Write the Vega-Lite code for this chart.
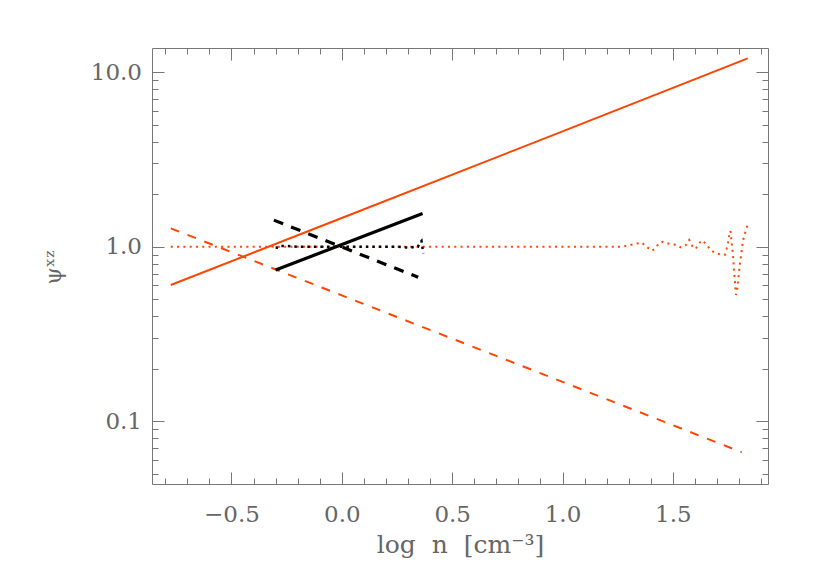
{
  "$schema": "https://vega.github.io/schema/vega-lite/v6.json",
  "width": 616,
  "height": 436,
  "autosize": {"type": "none"},
  "padding": {"left": 152, "top": 48, "right": 46, "bottom": 97},
  "background": "white",
  "datasets": {
    "curves": [
      {"s": "rs", "x": -0.775, "y": 0.603},
      {"s": "rs", "x": 0.0, "y": 1.46},
      {"s": "rs", "x": 1.0, "y": 4.58},
      {"s": "rs", "x": 1.839, "y": 12.0},
      {"s": "rd", "x": -0.775, "y": 1.274},
      {"s": "rd", "x": 0.0, "y": 0.526},
      {"s": "rd", "x": 1.0, "y": 0.168},
      {"s": "rd", "x": 1.812, "y": 0.0664},
      {"s": "bs", "x": -0.3, "y": 0.735},
      {"s": "bs", "x": 0.366, "y": 1.55},
      {"s": "bd", "x": -0.308, "y": 1.42},
      {"s": "bd", "x": 0.346, "y": 0.668},
      {"s": "ro", "x": -0.775, "y": 1.0},
      {"s": "ro", "x": 0.5, "y": 1.0},
      {"s": "ro", "x": 1.2, "y": 1.0},
      {"s": "ro", "x": 1.27, "y": 1.0},
      {"s": "ro", "x": 1.3, "y": 1.018},
      {"s": "ro", "x": 1.33, "y": 1.04},
      {"s": "ro", "x": 1.36, "y": 1.054},
      {"s": "ro", "x": 1.38, "y": 1.0},
      {"s": "ro", "x": 1.405, "y": 0.948},
      {"s": "ro", "x": 1.42, "y": 0.974},
      {"s": "ro", "x": 1.436, "y": 1.046},
      {"s": "ro", "x": 1.455, "y": 1.068},
      {"s": "ro", "x": 1.483, "y": 1.04},
      {"s": "ro", "x": 1.511, "y": 1.027},
      {"s": "ro", "x": 1.537, "y": 0.99},
      {"s": "ro", "x": 1.558, "y": 1.019},
      {"s": "ro", "x": 1.574, "y": 1.093},
      {"s": "ro", "x": 1.588, "y": 1.009},
      {"s": "ro", "x": 1.603, "y": 0.97},
      {"s": "ro", "x": 1.617, "y": 1.04},
      {"s": "ro", "x": 1.633, "y": 1.088},
      {"s": "ro", "x": 1.653, "y": 1.027},
      {"s": "ro", "x": 1.671, "y": 0.957},
      {"s": "ro", "x": 1.692, "y": 0.92},
      {"s": "ro", "x": 1.718, "y": 0.9},
      {"s": "ro", "x": 1.736, "y": 0.9},
      {"s": "ro", "x": 1.744, "y": 0.98},
      {"s": "ro", "x": 1.75, "y": 1.06},
      {"s": "ro", "x": 1.755, "y": 1.15},
      {"s": "ro", "x": 1.761, "y": 1.23},
      {"s": "ro", "x": 1.767, "y": 1.04},
      {"s": "ro", "x": 1.773, "y": 0.873},
      {"s": "ro", "x": 1.779, "y": 0.68},
      {"s": "ro", "x": 1.786, "y": 0.53},
      {"s": "ro", "x": 1.79, "y": 0.548},
      {"s": "ro", "x": 1.796, "y": 0.644},
      {"s": "ro", "x": 1.802, "y": 0.766},
      {"s": "ro", "x": 1.81, "y": 0.905},
      {"s": "ro", "x": 1.817, "y": 1.074},
      {"s": "ro", "x": 1.824, "y": 1.16},
      {"s": "ro", "x": 1.832, "y": 1.26},
      {"s": "ro", "x": 1.841, "y": 1.36},
      {"s": "bo", "x": -0.3, "y": 0.99},
      {"s": "bo", "x": -0.285, "y": 0.985},
      {"s": "bo", "x": -0.275, "y": 1.01},
      {"s": "bo", "x": -0.25, "y": 1.01},
      {"s": "bo", "x": -0.2, "y": 1.0},
      {"s": "bo", "x": 0.25, "y": 1.0},
      {"s": "bo", "x": 0.29, "y": 0.99},
      {"s": "bo", "x": 0.31, "y": 0.985},
      {"s": "bo", "x": 0.33, "y": 1.0},
      {"s": "bo", "x": 0.345, "y": 1.0},
      {"s": "bo", "x": 0.354, "y": 1.06},
      {"s": "bo", "x": 0.361, "y": 1.08},
      {"s": "bo", "x": 0.369, "y": 0.916}
    ]
  },
  "data": {"name": "curves"},
  "resolve": {"axis": {"x": "independent", "y": "independent"}},
  "layer": [
    {
      "transform": [{"filter": "datum.s == 'rs'"}],
      "mark": {"type": "line", "color": "#ff4500", "strokeWidth": 2},
      "encoding": {
        "x": {"field": "x", "type": "quantitative",
              "scale": {"domain": [-0.86, 1.931], "nice": false, "zero": false},
              "axis": {"orient": "bottom", "values": [-0.5, 0, 0.5, 1, 1.5], "format": ".1f", "ticks": false,
                       "labelPadding": 37, "labelBaseline": "alphabetic",
                       "title": "log\u00a0\u00a0n\u00a0\u00a0[cm\u207b\u00b3]", "titleFontSize": 25, "titleFontWeight": "normal",
                       "titleX": 308, "titleY": 68, "titleBaseline": "alphabetic", "titleAlign": "center"}},
        "y": {"field": "y", "type": "quantitative",
              "scale": {"type": "log", "domain": [0.04366, 13.76], "nice": false},
              "axis": {"orient": "left", "values": [0.1, 1, 10], "format": ".1f", "ticks": false,
                       "labelPadding": 10.5,
                       "title": "ψˣᶻ", "titleFontSize": 22, "titleFontWeight": "normal",
                       "titleX": -92, "titleY": 219, "titleAngle": -90,
                       "titleBaseline": "alphabetic", "titleAlign": "center"}}
      }
    },
    {
      "transform": [{"filter": "datum.s == 'rd'"}],
      "mark": {"type": "line", "color": "#ff4500", "strokeWidth": 2, "strokeDash": [9, 9]},
      "encoding": {
        "x": {"field": "x", "type": "quantitative",
              "axis": {"orient": "bottom", "values": [-0.5, 0, 0.5, 1, 1.5], "labels": false, "title": null, "tickSize": -12}},
        "y": {"field": "y", "type": "quantitative",
              "axis": {"orient": "left", "values": [0.1, 1, 10], "labels": false, "title": null, "tickSize": -12}}
      }
    },
    {
      "transform": [{"filter": "datum.s == 'ro'"}],
      "mark": {"type": "line", "color": "#ff4500", "strokeWidth": 2, "strokeDash": [2, 4.3]},
      "encoding": {
        "x": {"field": "x", "type": "quantitative",
              "axis": {"orient": "bottom", "values": [-0.8, -0.7, -0.6, -0.4, -0.3, -0.2, -0.1, 0.1, 0.2, 0.3, 0.4, 0.6, 0.7, 0.8, 0.9, 1.1, 1.2, 1.3, 1.4, 1.6, 1.7, 1.8, 1.9],
                       "labels": false, "title": null, "tickSize": -6}},
        "y": {"field": "y", "type": "quantitative",
              "axis": {"orient": "left", "values": [0.05, 0.06, 0.07, 0.08, 0.09, 0.2, 0.3, 0.4, 0.5, 0.6, 0.7, 0.8, 0.9, 2, 3, 4, 5, 6, 7, 8, 9],
                       "labels": false, "title": null, "tickSize": -6}}
      }
    },
    {
      "transform": [{"filter": "datum.s == 'bs'"}],
      "mark": {"type": "line", "color": "black", "strokeWidth": 3.2},
      "encoding": {
        "x": {"field": "x", "type": "quantitative",
              "axis": {"orient": "top", "values": [-0.5, 0, 0.5, 1, 1.5], "labels": false, "title": null, "tickSize": -12}},
        "y": {"field": "y", "type": "quantitative",
              "axis": {"orient": "right", "values": [0.1, 1, 10], "labels": false, "title": null, "tickSize": -12}}
      }
    },
    {
      "transform": [{"filter": "datum.s == 'bd'"}],
      "mark": {"type": "line", "color": "black", "strokeWidth": 3.2, "strokeDash": [10, 8.5]},
      "encoding": {
        "x": {"field": "x", "type": "quantitative",
              "axis": {"orient": "top", "values": [-0.8, -0.7, -0.6, -0.4, -0.3, -0.2, -0.1, 0.1, 0.2, 0.3, 0.4, 0.6, 0.7, 0.8, 0.9, 1.1, 1.2, 1.3, 1.4, 1.6, 1.7, 1.8, 1.9],
                       "labels": false, "title": null, "tickSize": -6}},
        "y": {"field": "y", "type": "quantitative",
              "axis": {"orient": "right", "values": [0.05, 0.06, 0.07, 0.08, 0.09, 0.2, 0.3, 0.4, 0.5, 0.6, 0.7, 0.8, 0.9, 2, 3, 4, 5, 6, 7, 8, 9],
                       "labels": false, "title": null, "tickSize": -6}}
      }
    },
    {
      "transform": [{"filter": "datum.s == 'bo'"}],
      "mark": {"type": "line", "color": "black", "strokeWidth": 2.5, "strokeDash": [2.5, 4]},
      "encoding": {
        "x": {"field": "x", "type": "quantitative", "axis": null},
        "y": {"field": "y", "type": "quantitative", "axis": null}
      }
    }
  ],
  "config": {
    "view": {"stroke": "#777777", "strokeWidth": 1},
    "axis": {
      "grid": false,
      "domain": false,
      "labelFont": "DejaVu Serif",
      "labelFontSize": 23,
      "labelColor": "#666666",
      "titleFont": "DejaVu Serif",
      "titleColor": "#666666",
      "tickColor": "#777777",
      "tickWidth": 1
    }
  }
}
